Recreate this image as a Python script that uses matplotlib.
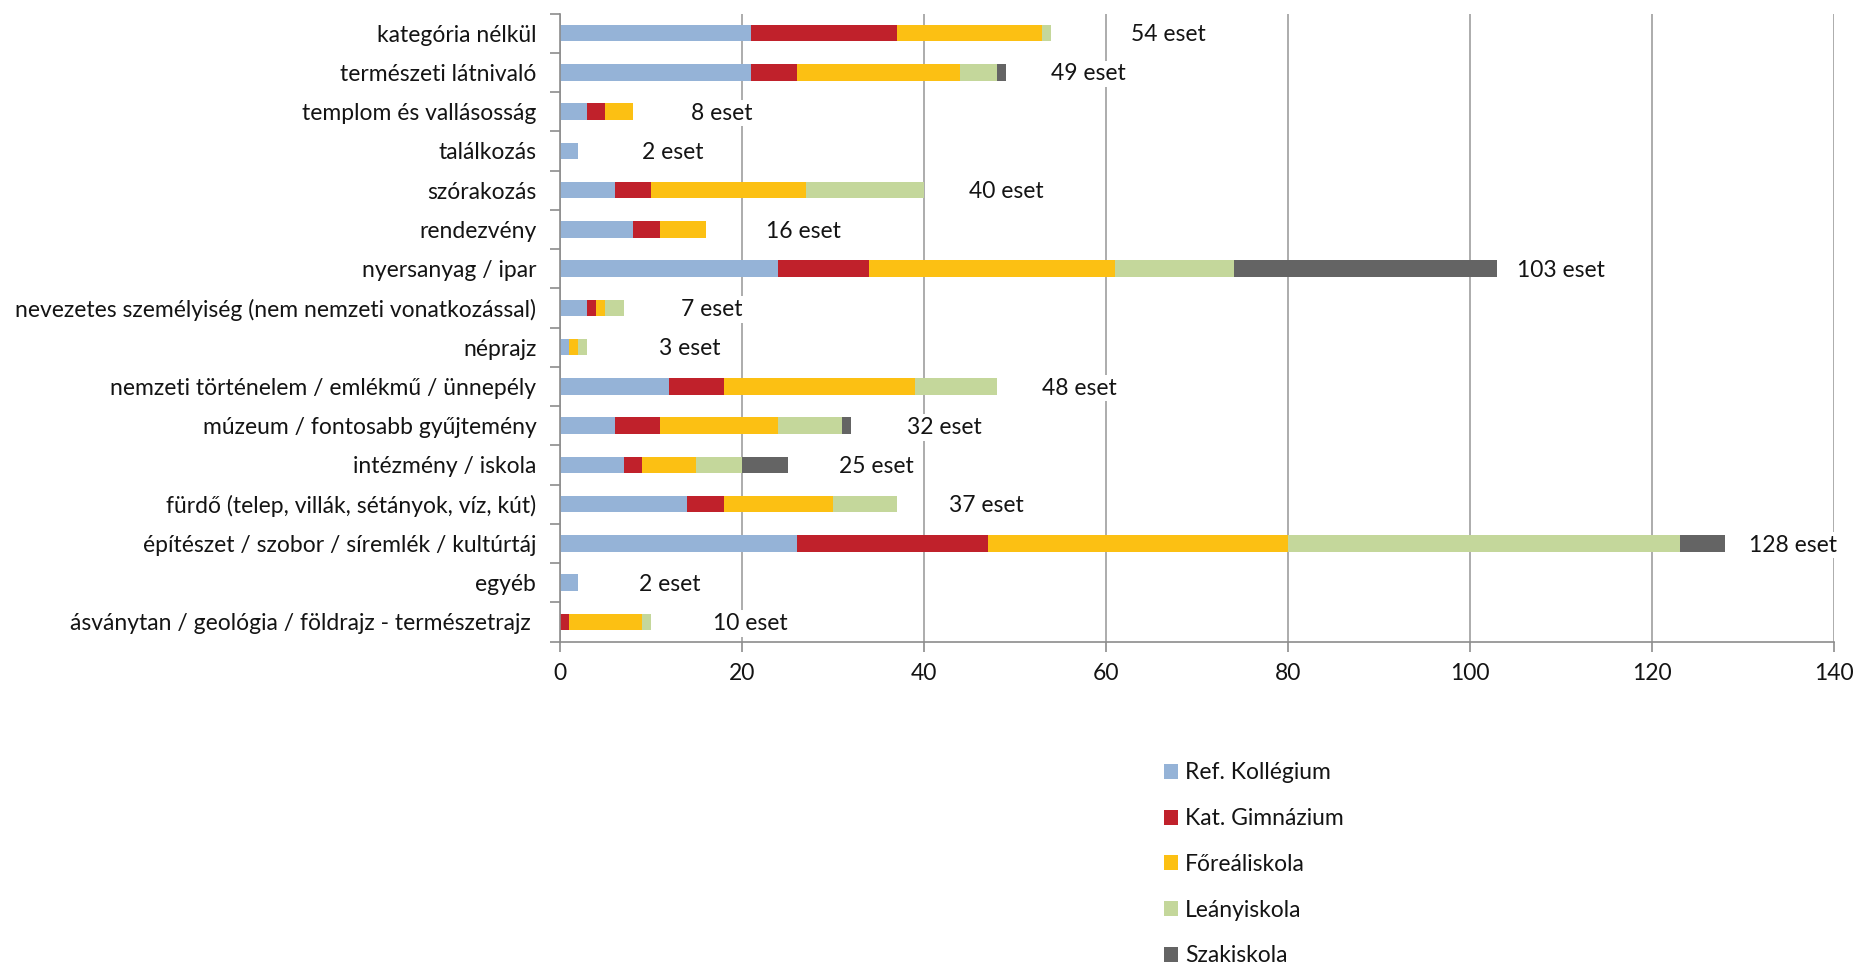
import matplotlib.pyplot as plt
import numpy as np

categories = [
    'kategória nélkül',
    'természeti látnivaló',
    'templom és vallásosság',
    'találkozás',
    'szórakozás',
    'rendezvény',
    'nyersanyag / ipar',
    'nevezetes személyiség (nem nemzeti vonatkozással)',
    'néprajz',
    'nemzeti történelem / emlékmű / ünnepély',
    'múzeum / fontosabb gyűjtemény',
    'intézmény / iskola',
    'fürdő (telep, villák, sétányok, víz, kút)',
    'építészet / szobor / síremlék / kultúrtáj',
    'egyéb',
    'ásványtan / geológia / földrajz - természetrajz ',
]

school_names = ['Ref. Kollégium', 'Kat. Gimnázium', 'Főreáliskola', 'Leányiskola', 'Szakiskola']
ref_kollegium = [21, 21, 3, 2, 6, 8, 24, 3, 1, 12, 6, 7, 14, 26, 2, 0]
kat_gimnazium = [16, 5, 2, 0, 4, 3, 10, 1, 0, 6, 5, 2, 4, 21, 0, 1]
foreáliskola = [16, 18, 3, 0, 17, 5, 27, 1, 1, 21, 13, 6, 12, 33, 0, 8]
leanyiskola = [1, 4, 0, 0, 13, 0, 13, 2, 1, 9, 7, 5, 7, 43, 0, 1]
szakiskola = [0, 1, 0, 0, 0, 0, 29, 0, 0, 0, 1, 5, 0, 5, 0, 0]
case_counts = [54, 49, 8, 2, 40, 16, 103, 7, 3, 48, 32, 25, 37, 128, 2, 10]

x_ticks = [0, 20, 40, 60, 80, 100, 120, 140]

# gap between bar end and its "eset" label, in axis units
label_gap = [8.7, 4.9, 6.4, 7.0, 4.9, 6.6, 2.1, 6.3, 7.9, 4.95, 6.1, 5.7, 5.7, 2.6, 6.7, 6.8]

colors = ['#95B3D7', '#C0212B', '#FCC013', '#C4D79B', '#646464']
text_color = '#141414'
axis_grey = '#8c8c8c'
fs = 16.5

plt.rcParams['font.family'] = ['Lato', 'DejaVu Sans']

fig = plt.figure(figsize=(18.56, 9.67), dpi=100)
ax = fig.add_axes([0.3017, 0.3365, 0.6866, 0.6495])

y = np.arange(len(categories))
left = np.zeros(len(categories))
series = [ref_kollegium, kat_gimnazium, foreáliskola, leanyiskola, szakiskola]
for name, vals, col in zip(school_names, series, colors):
    vals = np.array(vals, dtype=float)
    ax.barh(y, vals, left=left, height=0.42, color=col, label=name, zorder=2)
    left += vals

# "N eset" labels to the right of each stacked bar
for i, n in enumerate(case_counts):
    ax.text(left[i] + label_gap[i], y[i] + 0.04, f'{n} eset', ha='left', va='center',
            fontsize=fs, color=text_color, zorder=3,
            bbox=dict(facecolor='white', edgecolor='none', pad=2))

ax.set_xlim(0, 140)
ax.set_ylim(len(categories) - 0.5, -0.5)
ax.set_xticks(x_ticks)
ax.set_yticks(y)
ax.set_yticklabels(categories)
ax.set_yticks(np.arange(-0.5, len(categories), 1), minor=True)

ax.tick_params(axis='y', which='major', length=0, pad=17, labelsize=fs, labelcolor=text_color)
ax.tick_params(axis='y', which='minor', length=7, width=1.2, color=axis_grey)
ax.tick_params(axis='x', which='major', length=7, width=1.2, color=axis_grey,
               pad=8.5, labelsize=fs, labelcolor=text_color)

ax.xaxis.grid(True, color='#a6a6a6', linewidth=1.3)
ax.set_axisbelow(True)
for side in ['top', 'right']:
    ax.spines[side].set_visible(False)
for side in ['left', 'bottom']:
    ax.spines[side].set_color(axis_grey)
    ax.spines[side].set_linewidth(1.2)

fig.legend(loc='upper left', bbox_to_anchor=(0.627, 0.2115), frameon=False,
           fontsize=fs, labelcolor=text_color, handlelength=0.62, handleheight=0.62,
           handletextpad=0.3, labelspacing=1.08, borderpad=0, borderaxespad=0)

fig.savefig('out.png', dpi=100)
